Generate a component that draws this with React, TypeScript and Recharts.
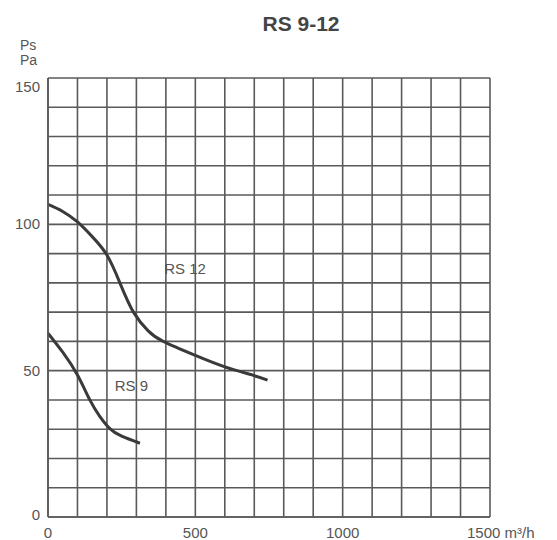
import React from "react";
import { LineChart, Line, XAxis, YAxis, CartesianGrid, ReferenceDot } from "recharts";

const gridX = [0, 100, 200, 300, 400, 500, 600, 700, 800, 900, 1000, 1100, 1200, 1300, 1400, 1500];
const gridY = [0, 10, 20, 30, 40, 50, 60, 70, 80, 90, 100, 110, 120, 130, 140, 150];
const labeledX = [0, 500, 1000, 1500];
const labeledY = [0, 50, 100, 150];

const rs12 = [
  { q: 0, p: 106.8 },
  { q: 50, p: 104.4 },
  { q: 100, p: 100.8 },
  { q: 150, p: 95.8 },
  { q: 200, p: 89.5 },
  { q: 244, p: 80 },
  { q: 290, p: 70 },
  { q: 340, p: 63.6 },
  { q: 391, p: 60 },
  { q: 500, p: 55.2 },
  { q: 600, p: 51.3 },
  { q: 700, p: 48.3 },
  { q: 745, p: 46.8 },
];

const rs9 = [
  { q: 0, p: 62.8 },
  { q: 50, p: 56.3 },
  { q: 100, p: 48.5 },
  { q: 142, p: 40 },
  { q: 175, p: 34.5 },
  { q: 210, p: 30.2 },
  { q: 250, p: 27.6 },
  { q: 312, p: 25.2 },
];

const FONT = "'Liberation Sans', Arial, sans-serif";
const TXT = "#555";
const GRID = "#5a5a5a";
const CURVE = "#3a3a3a";

const XTick = (props: any) => {
  const { x, payload } = props;
  const v = payload.value;
  if (!labeledX.includes(v)) return <g />;
  if (v === 1500) {
    return (
      <text x={x - 23} y={538} textAnchor="start" fontSize={15} fill={TXT} fontFamily={FONT}>
        1500 m³/h
      </text>
    );
  }
  return (
    <text x={x} y={538} textAnchor="middle" fontSize={15} fill={TXT} fontFamily={FONT}>
      {v}
    </text>
  );
};

const YTick = (props: any) => {
  const { y, payload } = props;
  const v = payload.value;
  if (!labeledY.includes(v)) return <g />;
  const dy = v === 150 ? 9 : v === 0 ? -2 : 0;
  return (
    <text x={40} y={y + dy + 5} textAnchor="end" fontSize={15} fill={TXT} fontFamily={FONT}>
      {v}
    </text>
  );
};

export default function App() {
  return (
    <div style={{ position: "absolute", left: 0, top: 0, width: 557, height: 540, background: "#fff", fontFamily: FONT }}>
      <div
        style={{
          position: "absolute",
          left: 0,
          width: 602,
          top: 12,
          textAlign: "center",
          fontSize: 21,
          fontWeight: "bold",
          color: "#444",
        }}
      >
        RS 9-12
      </div>
      <div style={{ position: "absolute", left: 20, top: 38, fontSize: 14, color: TXT, lineHeight: "15px" }}>
        Ps
        <br />
        Pa
      </div>
      <div style={{ position: "absolute", left: 0, top: 0 }}>
        <LineChart
          width={557}
          height={540}
          margin={{ top: 78, right: 67, bottom: 0, left: 8 }}
        >
          <CartesianGrid stroke={GRID} strokeWidth={1.6} />
          <XAxis
            dataKey="q"
            type="number"
            domain={[0, 1500]}
            ticks={gridX}
            interval={0}
            tick={<XTick />}
            tickLine={false}
            axisLine={{ stroke: GRID, strokeWidth: 1.6 }}
            height={23}
            allowDuplicatedCategory={false}
          />
          <YAxis
            type="number"
            domain={[0, 150]}
            ticks={gridY}
            interval={0}
            tick={<YTick />}
            tickLine={false}
            axisLine={{ stroke: GRID, strokeWidth: 1.6 }}
            width={40}
          />
          <Line
            data={rs12}
            dataKey="p"
            type="natural"
            stroke={CURVE}
            strokeWidth={3}
            dot={false}
            isAnimationActive={false}
          />
          <Line
            data={rs9}
            dataKey="p"
            type="natural"
            stroke={CURVE}
            strokeWidth={3}
            dot={false}
            isAnimationActive={false}
          />
          <ReferenceDot
            x={465}
            y={85}
            r={0}
            stroke="none"
            fill="none"
            label={{ value: "RS 12", position: "center", fontSize: 15, fill: TXT, fontFamily: FONT }}
          />
          <ReferenceDot
            x={283}
            y={45}
            r={0}
            stroke="none"
            fill="none"
            label={{ value: "RS 9", position: "center", fontSize: 15, fill: TXT, fontFamily: FONT }}
          />
        </LineChart>
      </div>
    </div>
  );
}
